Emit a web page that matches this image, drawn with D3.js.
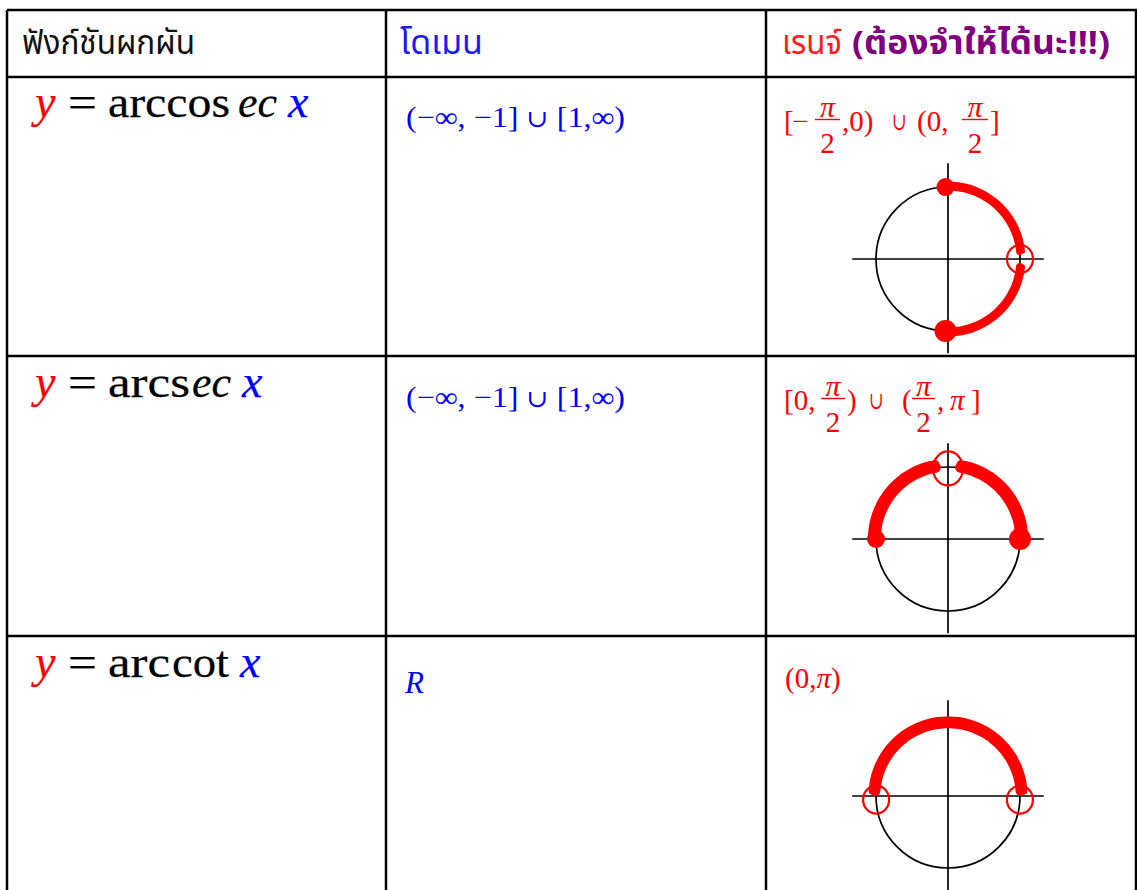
<!DOCTYPE html>
<html><head><meta charset="utf-8">
<script src="https://cdn.jsdelivr.net/npm/d3@7"></script>
<style>body{margin:0;background:#fff}</style>
</head><body><svg id="c" width="1137" height="890"></svg>
<script>
// ---------- data ----------
const headers = ["ฟังก์ชันผกผัน", "โดเมน", "เรนจ์", "(ต้องจำให้ได้นะ!!!)"];
const funcRoman = ["arccos", "arcs", "arc"];
const funcTail = ["ec", "ec", "cot"];
const funcTailItalic = [true, true, false];
const domains = ["(−∞, −1] ∪ [1,∞)", "(−∞, −1] ∪ [1,∞)", "R"];
// range tokens: strings, "F" = fraction π/2
const ranges = [
  ["[", "−", "F", ",0)", "∪", "(0,", "F", "]"],
  ["[0,", "F", ")", "∪", "(", "F", ",", "π", "]"],
  ["(0,π)"]
];
// unit circle annotations (angles in degrees)
const rangeArcs = [[[90, 6], [-6, -90]], [[180, 100], [80, 0]], [[176, 4]]];
const rangeFilled = [[92, -92], [180, 0], []];
const rangeOpen = [[0], [90], [183, -3]];

// ---------- layout ----------
const svg = d3.select("#c");
const W = 1137, H = 890;
const colX = [7, 386, 766, 1136];
const rowY = [10, 77, 356, 636];
const serif = "'Liberation Serif','Times New Roman',serif";
const cupFont = "'DejaVu Serif',serif";
const thai = "'Noto Sans Thai','Noto Sans Thai UI','Loma','Garuda','Tahoma','DejaVu Sans',sans-serif";

// grid
const g = svg.append("g").attr("stroke", "#000").attr("stroke-width", 2.5);
g.selectAll("line.h").data(rowY).join("line").attr("class", "h")
  .attr("x1", colX[0]).attr("x2", W).attr("y1", d => d).attr("y2", d => d);
g.selectAll("line.v").data(colX).join("line").attr("class", "v")
  .attr("x1", d => d).attr("x2", d => d).attr("y1", rowY[0]).attr("y2", H);

// header
const hdr = [
  {t: headers[0], x: 22, w: 173, fill: "#111", bold: false},
  {t: headers[1], x: 400, w: 83, fill: "#1a1aff", bold: false},
  {t: headers[2], x: 782, w: 60, fill: "#ff1a1a", bold: false},
  {t: headers[3], x: 852, w: 258, fill: "#800080", bold: true}
];
svg.selectAll("text.hdr").data(hdr).join("text").attr("class", "hdr")
  .attr("x", d => d.x).attr("y", 54).text(d => d.t)
  .attr("font-family", thai).attr("font-size", 33)
  .attr("font-weight", d => d.bold ? "bold" : "normal")
  .attr("fill", d => d.fill)
  .attr("textLength", d => d.w).attr("lengthAdjust", "spacingAndGlyphs");

// formulas
const fLayout = [
  {base: 117, eq: [68, 97], roman: [108, 230], tail: [238, 277], x: 288},
  {base: 397, eq: [68, 97], roman: [108, 190], tail: [192, 231], x: 242},
  {base: 677, eq: [68, 97], roman: [108, 170], tail: [172, 229], x: 240}
];
funcRoman.forEach((r, i) => {
  const L = fLayout[i];
  const t = (txt, x, opts) => svg.append("text").attr("x", x).attr("y", L.base)
    .attr("font-family", serif).attr("font-size", opts.size || 45)
    .attr("font-style", opts.it ? "italic" : "normal")
    .attr("fill", opts.fill || "#000").attr("stroke", opts.fill || "#000").attr("stroke-width", 0.25)
    .text(txt)
    .call(s => { if (opts.w) s.attr("textLength", opts.w).attr("lengthAdjust", "spacingAndGlyphs"); });
  t("y", 35, {it: true, fill: "#ff0000", size: 46});
  t("=", L.eq[0], {w: L.eq[1] - L.eq[0]});
  t(r, L.roman[0], {w: L.roman[1] - L.roman[0]});
  t(funcTail[i], L.tail[0], {it: funcTailItalic[i], w: L.tail[1] - L.tail[0]});
  t("x", L.x, {it: true, fill: "#0000ff", size: 46});
});

// domains
const dLayout = [{x: 406, y: 127, w: 219}, {x: 406, y: 407, w: 219}, {x: 405, y: 693, w: 0}];
domains.forEach((d, i) => {
  const L = dLayout[i];
  const s = svg.append("text").attr("x", L.x).attr("y", L.y)
    .attr("font-family", serif).attr("fill", "#0000ff")
    .attr("font-size", d === "R" ? 31 : 29)
    .attr("font-style", d === "R" ? "italic" : "normal");
  d.split(/(∪)/).filter(p => p.length).forEach(p => {
    s.append("tspan").text(p).attr("font-family", p === "∪" ? cupFont : null)
      .attr("font-size", p === "∪" ? 24 : null).attr("font-weight", p === "∪" ? 300 : null);
  });
  if (L.w) s.attr("textLength", L.w).attr("lengthAdjust", "spacingAndGlyphs");
});

// ranges
const rBase = [131, 410, 688];
const rSize = 29;
const rPos = [
  [[784, 0], [792, 0], [815, 840], [842, 0], [892, 907], [917, 0], [962, 988], [990, 0]],
  [[784, 0], [821, 845], [847, 0], [869, 884], [902, 0], [912, 935], [937, 0], [950, 0], [971, 0]],
  [[785, 0]]
];
ranges.forEach((toks, i) => {
  const y = rBase[i];
  const grp = svg.append("g").attr("fill", "#ff0000").attr("font-family", serif).attr("font-size", rSize);
  toks.forEach((tok, k) => {
    const [x0, x1] = rPos[i][k];
    if (tok === "F") {
      grp.append("line").attr("x1", x0).attr("x2", x1).attr("y1", y - 11.5).attr("y2", y - 11.5)
        .attr("stroke", "#ff0000").attr("stroke-width", 1.4);
      grp.append("text").attr("x", (x0 + x1) / 2).attr("y", y - 14.5).attr("text-anchor", "middle")
        .attr("font-style", "italic").attr("font-size", 30).text("π");
      grp.append("text").attr("x", (x0 + x1) / 2).attr("y", y + 22).attr("text-anchor", "middle").text("2");
    } else if (tok === "∪") {
      grp.append("text").attr("x", x0).attr("y", y - 1).attr("font-family", cupFont).attr("font-size", 24)
        .text(tok).attr("textLength", x1 - x0).attr("lengthAdjust", "spacingAndGlyphs");
    } else {
      const t = grp.append("text").attr("x", x0).attr("y", y);
      tok.split(/(π)/).filter(p => p.length).forEach(p => {
        t.append("tspan").attr("font-style", p === "π" ? "italic" : "normal").text(p);
      });
      if (x1) t.attr("textLength", x1 - x0).attr("lengthAdjust", "spacingAndGlyphs");
    }
  });
});

// unit circles with hand-drawn range marks
const circleCY = [259, 539, 796];
const R = 72, CX = 948;
const penW = [7, 11, 10];
const penRadii = [[1.0, 1.04], [1.01, 1.05], [1.01, 1.05]];
const dotR = [[9, 11], [9, 11], []];
circleCY.forEach((cy, i) => {
  const xs = d3.scaleLinear().domain([-1, 1]).range([CX - R, CX + R]);
  const ys = d3.scaleLinear().domain([-1, 1]).range([cy + R, cy - R]);
  const cg = svg.append("g");
  cg.append("circle").attr("cx", xs(0)).attr("cy", ys(0)).attr("r", xs(1) - xs(0))
    .attr("fill", "none").attr("stroke", "#000").attr("stroke-width", 1.7);
  cg.append("line").attr("x1", xs(-1.33)).attr("x2", xs(1.33)).attr("y1", ys(0)).attr("y2", ys(0))
    .attr("stroke", "#000").attr("stroke-width", 1.7);
  cg.append("line").attr("x1", xs(0)).attr("x2", xs(0)).attr("y1", ys(1.33)).attr("y2", Math.min(ys(-1.31), H))
    .attr("stroke", "#000").attr("stroke-width", 1.7);
  const line = d3.line().curve(d3.curveCatmullRom).x(d => xs(d[1] * Math.cos(d[0] * Math.PI / 180)))
    .y(d => ys(d[1] * Math.sin(d[0] * Math.PI / 180)));
  rangeArcs[i].forEach(([a0, a1]) => {
    penRadii[i].forEach((m, k) => {
      const n = Math.max(2, Math.round(Math.abs(a1 - a0) / 4));
      const pts = d3.range(n + 1).map(j => [a0 + (a1 - a0) * j / n, m]);
      cg.append("path").attr("d", line(pts)).attr("fill", "none")
        .attr("stroke", "#ff0000").attr("stroke-width", penW[i] - k * 2)
        .attr("stroke-linecap", "round").attr("stroke-linejoin", "round");
    });
  });
  rangeFilled[i].forEach((a, k) => {
    cg.append("circle").attr("cx", xs(Math.cos(a * Math.PI / 180))).attr("cy", ys(Math.sin(a * Math.PI / 180)))
      .attr("r", dotR[i][k]).attr("fill", "#ff0000");
  });
  rangeOpen[i].forEach(a => {
    cg.append("ellipse").attr("cx", xs(Math.cos(a * Math.PI / 180))).attr("cy", ys(0.98 * Math.sin(a * Math.PI / 180)))
      .attr("rx", i === 1 ? 15 : 13).attr("ry", i === 1 ? 17 : 14)
      .attr("fill", "none").attr("stroke", "#ff0000").attr("stroke-width", 2.2);
  });
});
</script></body></html>
